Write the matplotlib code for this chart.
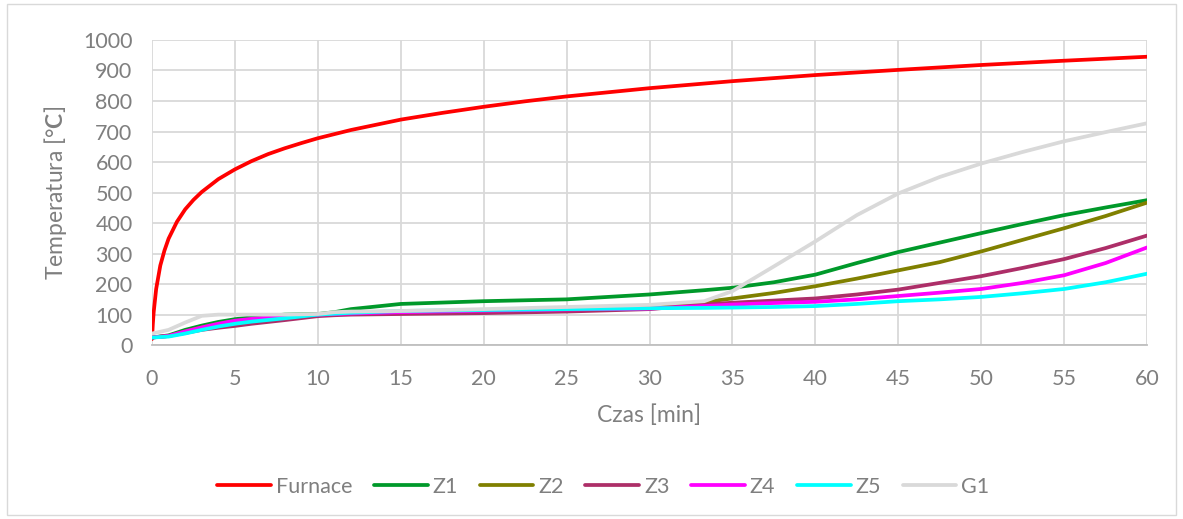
import matplotlib
matplotlib.use("Agg")
import matplotlib.pyplot as plt
from matplotlib.patches import Rectangle

plt.rcParams["font.family"] = ["Lato", "DejaVu Sans"]
plt.rcParams["mathtext.fontset"] = "custom"
plt.rcParams["mathtext.bf"] = "Lato:bold"
plt.rcParams["mathtext.rm"] = "Lato"

# Time samples [min] and temperatures [°C]
furnace_t = [0, 0.05, 0.1, 0.25, 0.5, 0.75, 1, 1.5, 2, 2.5, 3, 4, 5, 6, 7, 8, 9, 10, 12, 15,
             17.5, 20, 22.5, 25, 30, 35, 40, 45, 50, 55, 60]
furnace = [20, 70, 108, 184, 261, 310, 349, 404, 445, 476, 502, 544, 576, 603, 626, 645, 662, 678, 705, 739,
           761, 781, 799, 815, 842, 865, 885, 902, 918, 932, 945]

t = [0, 1, 2, 3, 4, 5, 6, 8, 10, 11, 12, 15, 20, 25, 30, 33.3, 35, 37.5, 40, 42.5, 45, 47.5, 50,
     52.5, 55, 57.5, 60]
z1 = [25, 32, 50, 64, 76, 85, 91, 100, 102, 108, 118, 135, 144, 150, 166, 180, 188, 206, 231, 269, 305, 336, 367,
      397, 426, 451, 475]
z2 = [25, 30, 45, 58, 70, 79, 85, 95, 100, 102, 104, 108, 112, 116, 126, 141, 153, 171, 193, 218, 245, 272, 307,
      345, 383, 423, 467]
z3 = [25, 30, 40, 50, 57, 63, 70, 82, 95, 98, 100, 102, 105, 110, 118, 133, 139, 146, 153, 166, 182, 204, 226,
      253, 282, 318, 359]
z4 = [25, 30, 45, 58, 70, 80, 86, 95, 100, 102, 104, 108, 113, 117, 120, 128, 133, 138, 142, 150, 161, 172, 184,
      204, 229, 269, 320]
z5 = [25, 28, 38, 50, 61, 70, 77, 88, 100, 103, 106, 112, 115, 118, 121, 122, 123, 125, 128, 135, 144, 150, 158,
      170, 184, 206, 234]
g1 = [38, 50, 74, 96, 100, 100, 100, 100, 102, 108, 110, 112, 118, 125, 132, 144, 177, 258, 340, 426, 497, 551, 595,
      633, 668, 698, 727]

series = [
    ("Furnace", furnace_t, furnace, "#ff0000"),
    ("Z1", t, z1, "#00992a"),
    ("Z2", t, z2, "#808000"),
    ("Z3", t, z3, "#ad2e68"),
    ("Z4", t, z4, "#ff00ff"),
    ("Z5", t, z5, "#00ffff"),
    ("G1", t, g1, "#d9d9d9"),
]

x_ticks = list(range(0, 61, 5))
y_ticks = list(range(0, 1001, 100))

fig = plt.figure(figsize=(11.83, 5.19), dpi=100)
ax = fig.add_axes([0.1285, 0.335, 0.9696 - 0.1285, 0.923 - 0.335])

for name, xs, ys, col in series:
    ax.plot(xs, ys, color=col, lw=2.7, label=name, solid_capstyle="round", solid_joinstyle="round")

ax.set_xlim(0, 60)
ax.set_ylim(0, 1000)
ax.set_xticks(x_ticks)
ax.set_yticks(y_ticks)
ax.grid(True, color="#d9d9d9", lw=1.3)
ax.set_axisbelow(True)
for s in ["top", "right", "left"]:
    ax.spines[s].set_visible(False)
ax.spines["bottom"].set_color("#bfbfbf")
ax.spines["bottom"].set_linewidth(1.3)
ax.tick_params(length=0, labelsize=15.5, labelcolor="#7f7f7f")
ax.tick_params(axis="x", pad=17)
ax.tick_params(axis="y", pad=14)

ax.set_xlabel("Czas [min]", fontsize=16.5, color="#7f7f7f", labelpad=11)
ax.set_ylabel(r"Temperatura [°$\mathbf{C}$]", fontsize=16.5, color="#7f7f7f", labelpad=10)

fig.legend(loc="center", bbox_to_anchor=(0.51, 0.062), ncol=7, frameon=False,
           fontsize=15.5, labelcolor="#7f7f7f", handlelength=2.5, handletextpad=0.23,
           columnspacing=1.0)

fig.patches.append(Rectangle((0.006, 0.008), 0.988, 0.984, transform=fig.transFigure,
                             fill=False, edgecolor="#d9d9d9", lw=1.0))

fig.savefig("out.png", dpi=100)
